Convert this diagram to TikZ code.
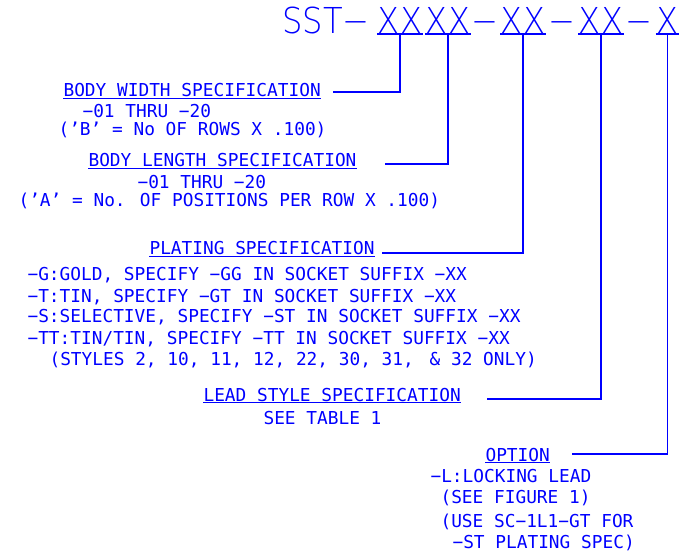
\documentclass[tikz,border=0pt]{standalone}
\usepackage{fontspec}
\setmainfont{DejaVu Sans Mono}
\newfontfamily\partfont[FakeStretch=0.9]{DejaVuSans-ExtraLight.ttf}
\usepackage{tikz}
\usetikzlibrary{positioning}

\begin{document}
\begin{tikzpicture}[x=1bp, y=-1bp, line width=1.1bp, blue,
    every node/.style={inner sep=0pt, anchor=base west},
    spec/.style={font=\fontsize{17.8bp}{20bp}\selectfont},
    partno/.style={font=\partfont\fontsize{35.7bp}{40bp}\selectfont, anchor=base}]
  \useasboundingbox (0,0) rectangle (687,556);

  % Part number
  \node[partno, anchor=base west] (sst) at (282,34) {SST−};
  \node[partno] (xw) at (400,34) {XX};
  \node[partno] (xl) at (448,34) {XX};
  \node[partno] (d1) at (484.5,34) {−};
  \node[partno] (xp) at (523,34) {XX};
  \node[partno] (d2) at (562,34) {−};
  \node[partno] (xs) at (601,34) {XX};
  \node[partno] (d3) at (639,34) {−};
  \node[partno] (xo) at (667.5,34) {X};
  \foreach \n in {xw, xl, xp, xs, xo}
    \draw (\n.base west) -- (\n.base east);

  % Body width
  \node[spec] (bw) at (63,97) {BODY WIDTH SPECIFICATION};
  \node[spec] (bwr) at (82,118) {−01 THRU −20};
  \node[spec] (bwn) at (58,136) {('B' = No OF ROWS X .100)};

  % Body length
  \node[spec] (bl) at (88,167) {BODY LENGTH SPECIFICATION};
  \node[spec] (blr) at (137,189) {−01 THRU −20};
  \node[spec] (bln) at (18,207) {('A' = No. OF POSITIONS PER ROW X .100)};

  % Plating
  \node[spec] (ps) at (149,255) {PLATING SPECIFICATION};
  \node[spec] (psg) at (27,280) {−G:GOLD, SPECIFY −GG IN SOCKET SUFFIX −XX};
  \node[spec] (pst) at (27,302) {−T:TIN, SPECIFY −GT IN SOCKET SUFFIX −XX};
  \node[spec] (pss) at (27,322) {−S:SELECTIVE, SPECIFY −ST IN SOCKET SUFFIX −XX};
  \node[spec] (pstt) at (27,344) {−TT:TIN/TIN, SPECIFY −TT IN SOCKET SUFFIX −XX};
  \node[spec] (psn) at (49,365) {(STYLES 2, 10, 11, 12, 22, 30, 31,\hspace{5bp} \& 32 ONLY)};

  % Lead style
  \node[spec] (ls) at (203,401) {LEAD STYLE SPECIFICATION};
  \node[spec] (lsr) at (263,424) {SEE TABLE 1};

  % Option
  \node[spec] (op) at (485,461) {OPTION};
  \node[spec] (opl) at (430,482) {−L:LOCKING LEAD};
  \node[spec] (ops) at (440,503) {(SEE FIGURE 1)};
  \node[spec] (opu) at (440,527) {(USE SC−1L1−GT FOR};
  \node[spec] (opt) at (452,548) {−ST PLATING SPEC)};

  \foreach \n in {bw, bl, ps, ls, op}
    \draw ([yshift=-1.5bp]\n.base west) -- ([yshift=-1.5bp]\n.base east);

  % Leaders
  \coordinate (bwend) at (333,92);
  \coordinate (blend) at (385,164);
  \coordinate (psend) at (382,253);
  \coordinate (lsend) at (487,399);
  \coordinate (opend) at (572,454);

  \draw (xw.base) |- (bwend);
  \draw (xl.base) |- (blend);
  \draw (xp.base) |- (psend);
  \draw (xs.base) |- (lsend);
  \draw (xo.base) |- (opend);
\end{tikzpicture}
\end{document}
